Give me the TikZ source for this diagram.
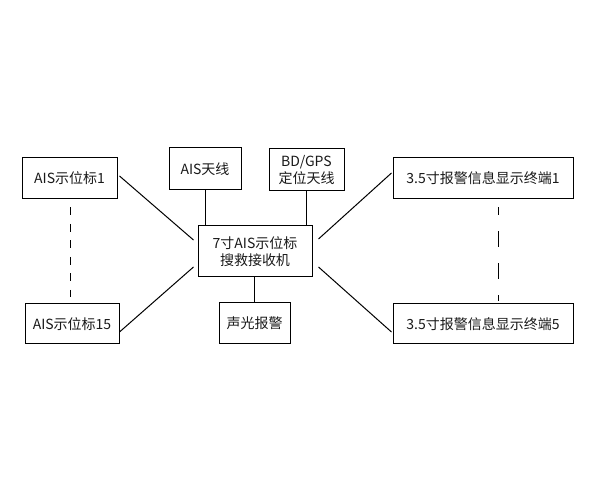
\documentclass[tikz,border=0pt]{standalone}
\usepackage{fontspec}
\setmainfont{Noto Sans CJK SC}
\begin{document}
\begin{tikzpicture}[x=1pt,y=-1pt,
  box/.style={draw=black,line width=1pt,rectangle,inner sep=0pt,align=center,
    font=\fontsize{14}{17}\selectfont,text=black!90},
  conn/.style={draw=black,line width=1pt},
  dashl/.style={conn,dash pattern=on 8pt off 8.5pt},
  dashr/.style={conn,dash pattern=on 16pt off 16pt,dash phase=8pt}]
\useasboundingbox (0,0) rectangle (590,500);
\node[box,minimum width=95pt,minimum height=41pt] (a1) at (69.5,178.5) {AIS示位标1};
\node[box,minimum width=94pt,minimum height=40pt] (a15) at (72,324) {AIS示位标15};
\node[box,minimum width=72pt,minimum height=42pt] (ant) at (205,169) {AIS天线};
\node[box,minimum width=75pt,minimum height=42pt] (gps) at (306.5,170) {BD/GPS\\定位天线};
\node[box,minimum width=114pt,minimum height=51pt] (cen) at (255,251.5) {7寸AIS示位标\\搜救接收机};
\node[box,minimum width=71pt,minimum height=41pt] (alarm) at (254.5,323.5) {声光报警};
\node[box,minimum width=180pt,minimum height=41pt] (t1) at (483,178.5) {3.5寸报警信息显示终端1};
\node[box,minimum width=180pt,minimum height=40pt] (t5) at (483,324) {3.5寸报警信息显示终端5};
\draw[conn] ([xshift=2pt,yshift=2.5pt]a1.east) -- ([xshift=-4pt,yshift=11.5pt]cen.west);
\draw[conn] ([xshift=0pt,yshift=-8pt]a15.east) -- ([xshift=-4pt,yshift=-15.5pt]cen.west);
\draw[conn] ([xshift=-1pt,yshift=5.5pt]t1.west) -- ([xshift=6pt,yshift=12.5pt]cen.east);
\draw[conn] ([xshift=-1pt,yshift=-8pt]t5.west) -- ([xshift=6pt,yshift=-15.5pt]cen.east);
\draw[conn] (ant.south) -- (ant.south |- cen.north);
\draw[conn] (gps.south) -- (gps.south |- cen.north);
\draw[conn] (alarm.north) -- (alarm.north |- cen.south);
\draw[dashl] ([yshift=-8pt]a1.south -| 70,0) -- ([yshift=6pt]a15.north -| 70,0);
\draw[dashr] ([yshift=-8pt]t1.south -| 498,0) -- ([yshift=2pt]t5.north -| 498,0);
\end{tikzpicture}
\end{document}
